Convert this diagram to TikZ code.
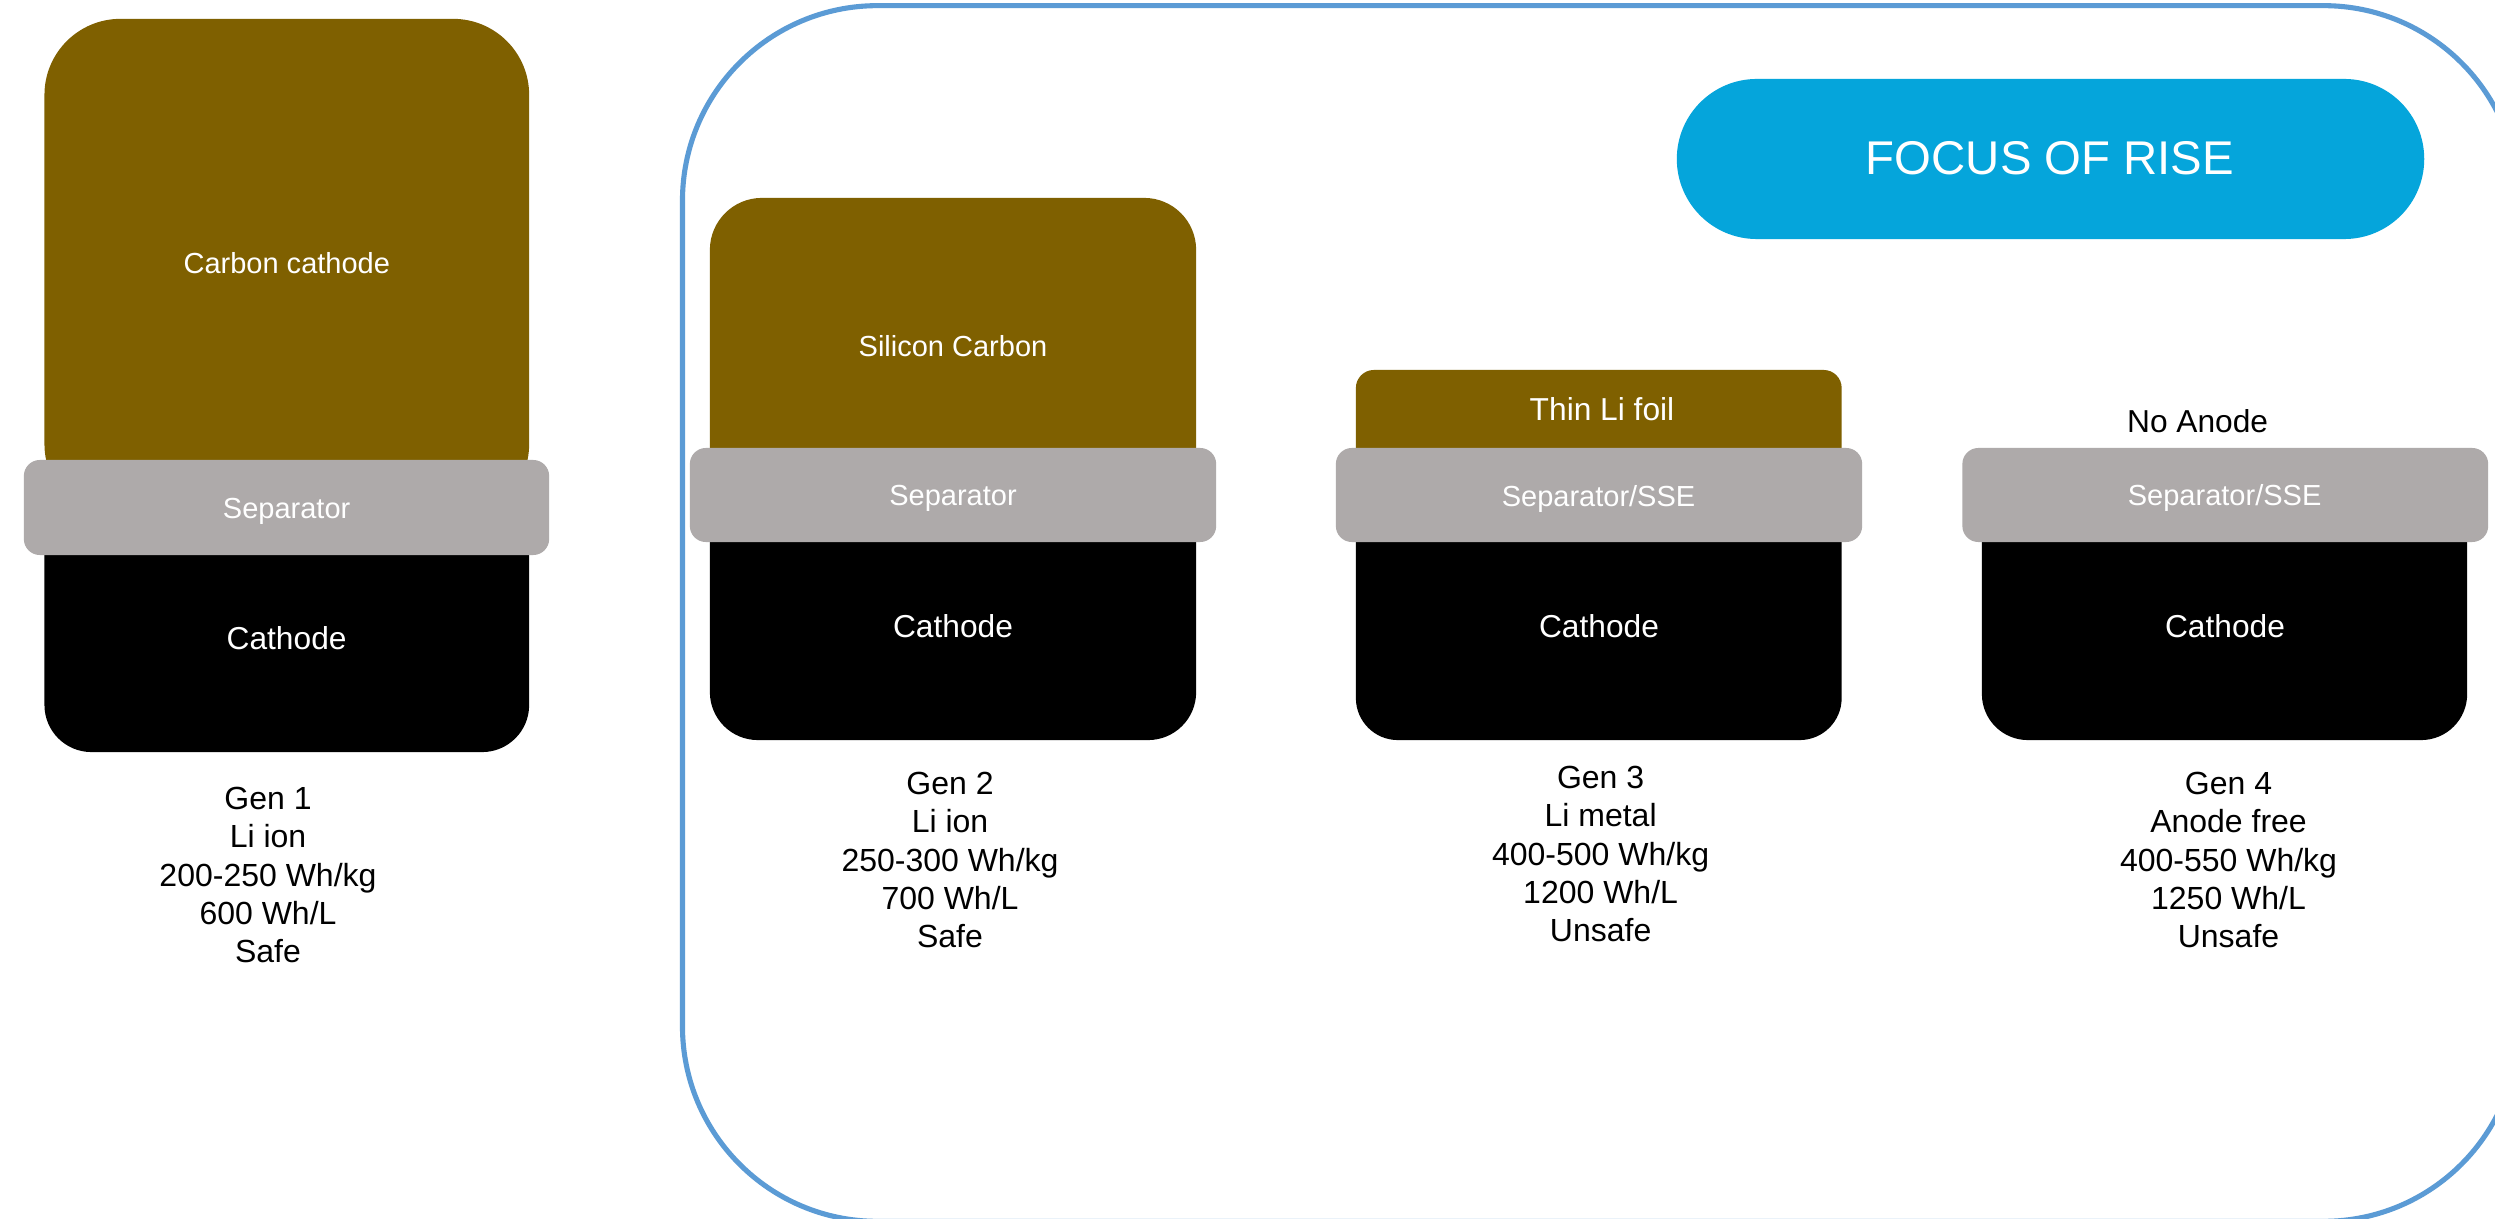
\documentclass[tikz,border=0pt]{standalone}
\usepackage{fontspec}
\setmainfont{Liberation Sans}
\definecolor{anodec}{HTML}{7F6000}
\definecolor{sepc}{HTML}{AEAAAA}
\definecolor{pillc}{HTML}{05A5DB}
\definecolor{framec}{HTML}{5B9BD5}
\begin{document}
\begin{tikzpicture}[x=0.01cm,y=-0.01cm,
  slab/.style={inner sep=0pt, outer sep=0pt},
  anodebox/.style={slab, fill=anodec},
  cathbox/.style={slab, fill=black},
  sepbox/.style={slab, fill=sepc, rounded corners=0.16cm, minimum height=0.94cm},
  smalllbl/.style={text=white, font=\fontsize{8.25}{9.9}\selectfont, text height=5.9pt, text depth=0pt, inner sep=0pt},
  biglbl/.style={text=white, font=\fontsize{9.02}{10.8}\selectfont, text height=6.45pt, text depth=0pt, inner sep=0pt},
  info/.style={align=center, font=\fontsize{9.1}{10.9}\selectfont, inner sep=0pt, text=black},
]
\useasboundingbox (0,0) rectangle (2495,1219);
\clip (0,0) rectangle (2495,1219);
\fill[white] (0,0) rectangle (2495,1219);

% frame
\node[slab, draw=framec, line width=1.45pt, rounded corners=1.95cm,
      minimum width=18.35cm, minimum height=12.15cm] (frame) at (1600.5,613.5) {};

% focus pill
\node[slab, fill=pillc, rounded corners=0.8cm, minimum width=7.47cm, minimum height=1.6cm] (pill) at (2050.5,159) {};
\node[text=white, font=\fontsize{13.46}{16}\selectfont, text height=9.6pt, text depth=0pt, inner sep=0pt] (pilltxt) at (2050,158) {FOCUS OF RISE};

% Gen 1
\node[anodebox, rounded corners=0.76cm, minimum width=4.844cm, minimum height=5.01cm] (b1) at (286.8,269.5) {};
\node[cathbox, rounded corners=0.47cm, minimum width=4.844cm, minimum height=2.72cm] (c1) at (286.8,616) {};
\node[sepbox, minimum width=5.25cm, minimum height=0.95cm] (s1) at (286.5,507.5) {};
\node[smalllbl] (b1t) at (286.8,263) {Carbon cathode};
\node[smalllbl] (s1t) at (286.6,508) {Separator};
\node[biglbl] (c1t) at (286.6,638) {Cathode};
\node[info] (g1) at (268,875) {Gen 1\\Li ion\\200-250 Wh/kg\\600 Wh/L\\Safe};

% Gen 2
\node[anodebox, rounded corners=0.52cm, minimum width=4.86cm, minimum height=3.22cm] (b2) at (953,359) {};
\node[cathbox, rounded corners=0.48cm, minimum width=4.86cm, minimum height=2.7cm] (c2) at (953,605) {};
\node[sepbox, minimum width=5.26cm] (s2) at (953,495) {};
\node[smalllbl] (b2t) at (953,346) {Silicon Carbon};
\node[smalllbl] (s2t) at (953,495) {Separator};
\node[biglbl] (c2t) at (953,626) {Cathode};
\node[info] (g2) at (950,860) {Gen 2\\Li ion\\250-300 Wh/kg\\700 Wh/L\\Safe};

% Gen 3
\node[anodebox, rounded corners=0.18cm, minimum width=4.855cm, minimum height=1.1cm] (b3) at (1598.75,425) {};
\node[cathbox, rounded corners=0.42cm, minimum width=4.855cm, minimum height=2.7cm] (c3) at (1598.75,605) {};
\node[sepbox, minimum width=5.26cm] (s3) at (1599,495) {};
\node[biglbl] (b3t) at (1602,409) {Thin Li foil};
\node[smalllbl] (s3t) at (1598.5,496) {Separator/SSE};
\node[biglbl] (c3t) at (1599,626) {Cathode};
\node[info] (g3) at (1600.6,854) {Gen 3\\Li metal\\400-500 Wh/kg\\1200 Wh/L\\Unsafe};

% Gen 4
\node[cathbox, rounded corners=0.46cm, minimum width=4.85cm, minimum height=2.7cm] (c4) at (2224.5,605) {};
\node[sepbox, minimum width=5.255cm] (s4) at (2225.25,495) {};
\node[biglbl, text=black] (na) at (2197.6,421.5) {No Anode};
\node[smalllbl] (s4t) at (2224.6,495) {Separator/SSE};
\node[biglbl] (c4t) at (2225,626) {Cathode};
\node[info] (g4) at (2228.5,860) {Gen 4\\Anode free\\400-550 Wh/kg\\1250 Wh/L\\Unsafe};
\end{tikzpicture}
\end{document}
